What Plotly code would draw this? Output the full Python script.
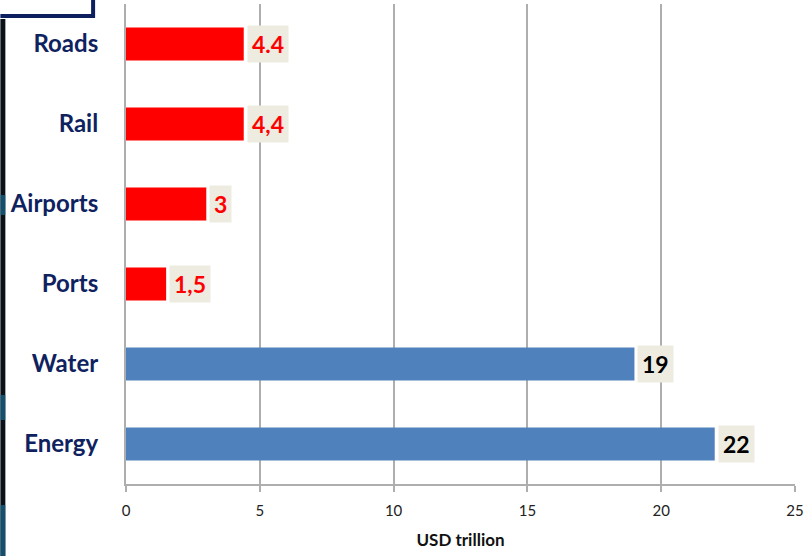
import plotly.graph_objects as go

categories = ["Roads", "Rail", "Airports", "Ports", "Water", "Energy"]
values = [4.4, 4.4, 3, 1.5, 19, 22]
value_labels = ["4.4", "4,4", "3", "1,5", "19", "22"]
bar_colors = ["#FF0000", "#FF0000", "#FF0000", "#FF0000", "#4F81BD", "#4F81BD"]
label_colors = ["#FF0000", "#FF0000", "#FF0000", "#FF0000", "#000000", "#000000"]
x_ticks = [0, 5, 10, 15, 20, 25]

W, H = 808, 556
ML, MR, MT, MB = 126, 11, 4, 72
PW, PH = W - ML - MR, H - MT - MB

def px(xp):
    return (xp - ML) / PW

def py(yp):
    return (H - MB - yp) / PH

fig = go.Figure()
fig.add_trace(go.Bar(
    x=values, y=categories, orientation="h",
    marker=dict(color=bar_colors, line=dict(width=0)),
    width=0.41, hoverinfo="skip",
))

for v, c, t, col in zip(values, categories, value_labels, label_colors):
    fig.add_annotation(
        x=v, y=c, text="<b>%s</b>" % t, showarrow=False,
        xanchor="left", yanchor="middle", xshift=3,
        bgcolor="#EEECE1", borderpad=4,
        font=dict(family="Lato, sans-serif", size=23, color=col),
    )

shapes = [
    dict(type="rect", xref="paper", yref="paper", x0=px(0), x1=px(5), y0=py(556), y1=py(19),
         fillcolor="#0B1118", line=dict(width=0), layer="above"),
    dict(type="line", xref="paper", yref="paper", x0=px(0), x1=px(94), y0=py(16), y1=py(16),
         line=dict(color="#0D1F5E", width=4), layer="above"),
    dict(type="line", xref="paper", yref="paper", x0=px(93), x1=px(93), y0=py(0), y1=py(18),
         line=dict(color="#0D1F5E", width=4), layer="above"),
]
for y0, y1 in [(195, 215), (395, 420), (505, 556)]:
    shapes.append(dict(type="rect", xref="paper", yref="paper", x0=px(0), x1=px(5),
                       y0=py(y1), y1=py(y0), fillcolor="#1B6A8E", line=dict(width=0),
                       opacity=0.7, layer="above"))

fig.update_layout(
    width=W, height=H,
    margin=dict(l=ML, r=MR, t=MT, b=MB),
    paper_bgcolor="white", plot_bgcolor="white",
    showlegend=False,
    bargap=0.59,
    shapes=shapes,
    xaxis=dict(
        range=[0, 25], tickvals=x_ticks, ticktext=[str(t) for t in x_ticks],
        showgrid=True, gridcolor="#AEAEAE", gridwidth=2,
        showline=True, linecolor="#AEAEAE", linewidth=2,
        ticks="outside", ticklen=6, tickcolor="#AEAEAE", tickwidth=2,
        ticklabelstandoff=6,
        tickfont=dict(family="Lato, Open Sans, sans-serif", size=15, color="#222222"),
        title=dict(text="<b>USD trillion</b>", standoff=16,
                   font=dict(family="Lato, Open Sans, sans-serif", size=17, color="#111111")),
        zeroline=False, fixedrange=True,
    ),
    yaxis=dict(
        categoryorder="array", categoryarray=categories, autorange="reversed",
        showline=True, linecolor="#AEAEAE", linewidth=2,
        ticks="", ticklabelstandoff=21,
        tickfont=dict(family="Lato, Open Sans, sans-serif", size=24, color="#0F2260", weight="bold"),
        showgrid=False, zeroline=False, fixedrange=True,
    ),
)

fig.write_html("out.html")
